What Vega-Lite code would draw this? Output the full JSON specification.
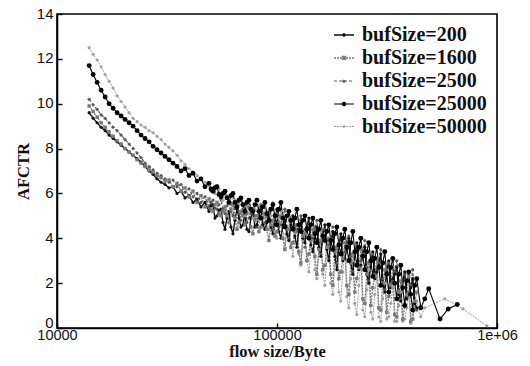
{
  "$schema": "https://vega.github.io/schema/vega-lite/v6.json",
  "width": 440,
  "height": 314,
  "autosize": "none",
  "padding": {"left": 57, "top": 14, "right": 33, "bottom": 38},
  "background": "white",
  "config": {
    "view": {"stroke": "#000", "strokeWidth": 1.6},
    "axis": {
      "grid": false,
      "domainColor": "#000",
      "domainWidth": 1.6,
      "tickColor": "#000",
      "tickWidth": 1.4,
      "tickSize": -5,
      "labelFont": "Liberation Sans",
      "labelFontSize": 15,
      "labelColor": "#111",
      "labelFlush": false,
      "titleFont": "Liberation Serif",
      "titleFontWeight": "bold",
      "titleFontSize": 16.5,
      "titleColor": "#111"
    }
  },
  "data": {
    "values": [
      {"flow": 14000, "200": 9.6, "1600": 9.9, "2500": 10.2, "25000": 11.7, "50000": 12.5},
      {"flow": 14600, "200": 9.35, "1600": 9.65, "2500": 9.95, "25000": 11.3, "50000": 12.2},
      {"flow": 15220, "200": 9.15, "1600": 9.4, "2500": 9.75, "25000": 10.95, "50000": 11.95},
      {"flow": 15870, "200": 8.95, "1600": 9.15, "2500": 9.5, "25000": 10.6, "50000": 11.65},
      {"flow": 16550, "200": 8.8, "1600": 8.95, "2500": 9.35, "25000": 10.3, "50000": 11.3},
      {"flow": 17250, "200": 8.6, "1600": 8.75, "2500": 9.15, "25000": 10.0, "50000": 11.0},
      {"flow": 17990, "200": 8.45, "1600": 8.55, "2500": 8.95, "25000": 9.8, "50000": 10.7},
      {"flow": 18760, "200": 8.3, "1600": 8.35, "2500": 8.8, "25000": 9.6, "50000": 10.35},
      {"flow": 19560, "200": 8.15, "1600": 8.2, "2500": 8.6, "25000": 9.45, "50000": 10.1},
      {"flow": 20390, "200": 8.0, "1600": 8.0, "2500": 8.4, "25000": 9.3, "50000": 9.85},
      {"flow": 21260, "200": 7.85, "1600": 7.85, "2500": 8.2, "25000": 9.15, "50000": 9.6},
      {"flow": 22170, "200": 7.7, "1600": 7.7, "2500": 8.0, "25000": 9.0, "50000": 9.35},
      {"flow": 23120, "200": 7.55, "1600": 7.5, "2500": 7.8, "25000": 8.8, "50000": 9.2},
      {"flow": 24100, "200": 7.4, "1600": 7.35, "2500": 7.6, "25000": 8.6, "50000": 9.05},
      {"flow": 25130, "200": 7.2, "1600": 7.2, "2500": 7.35, "25000": 8.45, "50000": 8.95},
      {"flow": 26210, "200": 7.0, "1600": 7.05, "2500": 7.2, "25000": 8.3, "50000": 8.8},
      {"flow": 27330, "200": 6.85, "1600": 6.95, "2500": 7.05, "25000": 8.1, "50000": 8.7},
      {"flow": 28490, "200": 6.65, "1600": 6.8, "2500": 6.9, "25000": 7.95, "50000": 8.55},
      {"flow": 29710, "200": 6.5, "1600": 6.7, "2500": 6.8, "25000": 7.8, "50000": 8.4},
      {"flow": 30980, "200": 6.4, "1600": 6.55, "2500": 6.65, "25000": 7.65, "50000": 8.2},
      {"flow": 32300, "200": 6.25, "1600": 6.6, "2500": 6.5, "25000": 7.5, "50000": 8.05},
      {"flow": 33680, "200": 6.3, "1600": 6.3, "2500": 6.6, "25000": 7.35, "50000": 7.9},
      {"flow": 35120, "200": 6.0, "1600": 6.45, "2500": 6.3, "25000": 7.2, "50000": 7.7},
      {"flow": 36620, "200": 6.1, "1600": 6.1, "2500": 6.4, "25000": 7.0, "50000": 7.45},
      {"flow": 38180, "200": 5.8, "1600": 6.25, "2500": 6.05, "25000": 7.1, "50000": 7.3},
      {"flow": 39810, "200": 5.9, "1600": 5.85, "2500": 6.2, "25000": 6.8, "50000": 7.1},
      {"flow": 41510, "200": 5.6, "1600": 6.1, "2500": 5.85, "25000": 6.9, "50000": 6.95},
      {"flow": 43290, "200": 5.75, "1600": 5.6, "2500": 6.0, "25000": 6.55, "50000": 6.8},
      {"flow": 45130, "200": 5.4, "1600": 5.9, "2500": 5.6, "25000": 6.65, "50000": 6.65},
      {"flow": 47060, "200": 5.6, "1600": 5.4, "2500": 5.85, "25000": 6.3, "50000": 6.5},
      {"flow": 49070, "200": 5.2, "1600": 5.75, "2500": 5.4, "25000": 6.45, "50000": 6.35},
      {"flow": 50110, "200": 5.45, "1600": 5.3, "2500": 5.6, "25000": 6.2, "50000": 6.1},
      {"flow": 51170, "200": 5.5, "1600": 5.2, "2500": 5.7, "25000": 6.1, "50000": 6.2},
      {"flow": 52250, "200": 4.9, "1600": 5.5, "2500": 5.35, "25000": 6.25, "50000": 6.0},
      {"flow": 53350, "200": 5.0, "1600": 5.6, "2500": 5.3, "25000": 6.3, "50000": 6.35},
      {"flow": 54480, "200": 5.25, "1600": 5.1, "2500": 5.5, "25000": 5.95, "50000": 6.2},
      {"flow": 55630, "200": 5.3, "1600": 5.0, "2500": 5.75, "25000": 5.85, "50000": 5.9},
      {"flow": 56810, "200": 4.7, "1600": 5.2, "2500": 5.3, "25000": 6.0, "50000": 5.7},
      {"flow": 58010, "200": 4.4, "1600": 5.4, "2500": 5.1, "25000": 6.1, "50000": 6.1},
      {"flow": 59240, "200": 4.9, "1600": 5.0, "2500": 5.45, "25000": 5.8, "50000": 5.9},
      {"flow": 60480, "200": 5.2, "1600": 4.7, "2500": 5.6, "25000": 5.6, "50000": 5.6},
      {"flow": 61760, "200": 4.5, "1600": 5.3, "2500": 5.2, "25000": 5.9, "50000": 5.5},
      {"flow": 63070, "200": 4.2, "1600": 5.5, "2500": 5.0, "25000": 6.0, "50000": 5.95},
      {"flow": 64400, "200": 4.8, "1600": 4.9, "2500": 5.4, "25000": 5.6, "50000": 5.7},
      {"flow": 65760, "200": 5.3, "1600": 4.4, "2500": 5.6, "25000": 5.4, "50000": 5.3},
      {"flow": 67150, "200": 4.9, "1600": 4.7, "2500": 5.1, "25000": 5.7, "50000": 5.5},
      {"flow": 68570, "200": 4.5, "1600": 5.2, "2500": 4.8, "25000": 5.8, "50000": 5.8},
      {"flow": 70020, "200": 4.6, "1600": 5.0, "2500": 5.3, "25000": 5.5, "50000": 5.2},
      {"flow": 71490, "200": 5.1, "1600": 4.6, "2500": 5.5, "25000": 5.2, "50000": 5.0},
      {"flow": 73000, "200": 4.4, "1600": 5.1, "2500": 4.7, "25000": 5.6, "50000": 5.4},
      {"flow": 74550, "200": 4.3, "1600": 5.4, "2500": 4.9, "25000": 5.7, "50000": 5.6},
      {"flow": 76120, "200": 4.9, "1600": 4.5, "2500": 5.1, "25000": 5.3, "50000": 5.1},
      {"flow": 77730, "200": 5.2, "1600": 4.2, "2500": 5.3, "25000": 5.2, "50000": 4.9},
      {"flow": 79370, "200": 4.5, "1600": 4.8, "2500": 5.0, "25000": 5.5, "50000": 5.3},
      {"flow": 81050, "200": 4.6, "1600": 5.0, "2500": 4.5, "25000": 5.7, "50000": 5.6},
      {"flow": 82760, "200": 5.0, "1600": 4.3, "2500": 5.2, "25000": 5.2, "50000": 4.8},
      {"flow": 84510, "200": 5.4, "1600": 4.5, "2500": 5.5, "25000": 4.9, "50000": 4.5},
      {"flow": 86300, "200": 4.6, "1600": 4.9, "2500": 4.6, "25000": 5.4, "50000": 5.0},
      {"flow": 88120, "200": 4.4, "1600": 5.1, "2500": 4.7, "25000": 5.6, "50000": 5.4},
      {"flow": 89980, "200": 4.7, "1600": 4.4, "2500": 5.0, "25000": 5.1, "50000": 4.7},
      {"flow": 91880, "200": 5.0, "1600": 3.9, "2500": 5.2, "25000": 4.8, "50000": 4.4},
      {"flow": 93820, "200": 4.5, "1600": 4.6, "2500": 4.8, "25000": 5.3, "50000": 5.0},
      {"flow": 95810, "200": 4.2, "1600": 4.8, "2500": 4.4, "25000": 5.5, "50000": 5.6},
      {"flow": 97830, "200": 4.8, "1600": 4.1, "2500": 4.9, "25000": 5.0, "50000": 4.3},
      {"flow": 99900, "200": 5.3, "1600": 4.3, "2500": 5.1, "25000": 4.6, "50000": 4.0},
      {"flow": 102000, "200": 4.3, "1600": 4.7, "2500": 4.5, "25000": 5.3, "50000": 4.9},
      {"flow": 104200, "200": 4.0, "1600": 5.0, "2500": 4.6, "25000": 5.6, "50000": 5.2},
      {"flow": 106400, "200": 4.6, "1600": 4.0, "2500": 5.0, "25000": 4.9, "50000": 4.2},
      {"flow": 108600, "200": 4.8, "1600": 3.5, "2500": 5.3, "25000": 4.5, "50000": 3.6},
      {"flow": 110900, "200": 4.2, "1600": 4.5, "2500": 4.4, "25000": 5.0, "50000": 4.4},
      {"flow": 113200, "200": 3.9, "1600": 4.4, "2500": 4.0, "25000": 5.2, "50000": 4.9},
      {"flow": 115600, "200": 4.6, "1600": 3.6, "2500": 4.7, "25000": 4.8, "50000": 3.8},
      {"flow": 118100, "200": 5.0, "1600": 3.8, "2500": 4.9, "25000": 4.4, "50000": 3.2},
      {"flow": 120600, "200": 4.1, "1600": 4.3, "2500": 4.5, "25000": 4.9, "50000": 4.2},
      {"flow": 123100, "200": 3.6, "1600": 4.6, "2500": 4.3, "25000": 5.3, "50000": 4.6},
      {"flow": 125700, "200": 4.4, "1600": 3.4, "2500": 4.6, "25000": 4.6, "50000": 3.3},
      {"flow": 128400, "200": 4.7, "1600": 2.9, "2500": 5.0, "25000": 4.3, "50000": 2.8},
      {"flow": 131100, "200": 4.0, "1600": 4.1, "2500": 4.3, "25000": 4.8, "50000": 3.9},
      {"flow": 133900, "200": 3.8, "1600": 4.2, "2500": 3.6, "25000": 5.0, "50000": 4.4},
      {"flow": 136700, "200": 4.5, "1600": 3.0, "2500": 4.4, "25000": 4.4, "50000": 3.0},
      {"flow": 139600, "200": 4.9, "1600": 3.3, "2500": 4.6, "25000": 4.0, "50000": 2.5},
      {"flow": 142500, "200": 3.7, "1600": 3.9, "2500": 4.1, "25000": 4.6, "50000": 3.6},
      {"flow": 145500, "200": 3.4, "1600": 4.4, "2500": 4.0, "25000": 4.9, "50000": 4.1},
      {"flow": 148600, "200": 4.0, "1600": 3.2, "2500": 4.4, "25000": 4.2, "50000": 2.6},
      {"flow": 151800, "200": 4.5, "1600": 2.4, "2500": 4.8, "25000": 3.8, "50000": 2.2},
      {"flow": 155000, "200": 3.6, "1600": 3.5, "2500": 3.8, "25000": 4.4, "50000": 3.5},
      {"flow": 158200, "200": 3.2, "1600": 3.9, "2500": 3.3, "25000": 4.8, "50000": 4.3},
      {"flow": 161500, "200": 4.1, "1600": 2.6, "2500": 4.2, "25000": 4.1, "50000": 2.4},
      {"flow": 165000, "200": 4.6, "1600": 2.8, "2500": 4.4, "25000": 3.9, "50000": 1.9},
      {"flow": 168500, "200": 3.5, "1600": 3.6, "2500": 3.9, "25000": 4.3, "50000": 3.1},
      {"flow": 172000, "200": 3.0, "1600": 4.0, "2500": 3.7, "25000": 4.6, "50000": 3.8},
      {"flow": 175600, "200": 3.8, "1600": 2.4, "2500": 4.0, "25000": 3.9, "50000": 2.0},
      {"flow": 179400, "200": 4.3, "1600": 1.9, "2500": 4.5, "25000": 3.5, "50000": 1.5},
      {"flow": 183200, "200": 3.2, "1600": 3.4, "2500": 3.5, "25000": 4.2, "50000": 2.8},
      {"flow": 187100, "200": 2.6, "1600": 3.6, "2500": 2.9, "25000": 4.5, "50000": 3.6},
      {"flow": 191100, "200": 3.7, "1600": 2.2, "2500": 3.8, "25000": 3.7, "50000": 1.6},
      {"flow": 195000, "200": 4.2, "1600": 2.5, "2500": 4.0, "25000": 3.3, "50000": 1.2},
      {"flow": 199100, "200": 3.0, "1600": 3.1, "2500": 3.3, "25000": 4.0, "50000": 2.5},
      {"flow": 203400, "200": 3.1, "1600": 3.8, "2500": 3.4, "25000": 4.4, "50000": 3.4},
      {"flow": 207700, "200": 3.5, "1600": 1.9, "2500": 3.7, "25000": 3.6, "50000": 1.4},
      {"flow": 212000, "200": 4.0, "1600": 1.5, "2500": 4.1, "25000": 3.0, "50000": 0.9},
      {"flow": 216500, "200": 2.9, "1600": 2.9, "2500": 3.2, "25000": 3.8, "50000": 2.2},
      {"flow": 221100, "200": 2.4, "1600": 3.3, "2500": 2.5, "25000": 4.3, "50000": 3.0},
      {"flow": 225800, "200": 3.3, "1600": 1.6, "2500": 3.4, "25000": 3.4, "50000": 1.1},
      {"flow": 230600, "200": 3.8, "1600": 2.2, "2500": 3.7, "25000": 2.8, "50000": 0.6},
      {"flow": 235500, "200": 2.6, "1600": 2.7, "2500": 2.8, "25000": 3.6, "50000": 1.9},
      {"flow": 240400, "200": 2.8, "1600": 3.5, "2500": 3.0, "25000": 4.0, "50000": 2.9},
      {"flow": 245500, "200": 3.2, "1600": 1.3, "2500": 3.3, "25000": 3.2, "50000": 0.8},
      {"flow": 250700, "200": 3.6, "1600": 1.1, "2500": 3.9, "25000": 2.6, "50000": 0.5},
      {"flow": 256000, "200": 2.4, "1600": 2.4, "2500": 2.7, "25000": 3.4, "50000": 1.7},
      {"flow": 261400, "200": 2.0, "1600": 2.9, "2500": 2.1, "25000": 3.8, "50000": 2.6},
      {"flow": 266900, "200": 2.9, "1600": 1.0, "2500": 3.0, "25000": 3.0, "50000": 0.7},
      {"flow": 272500, "200": 3.4, "1600": 1.8, "2500": 3.3, "25000": 2.3, "50000": 0.4},
      {"flow": 278300, "200": 2.2, "1600": 2.3, "2500": 2.4, "25000": 3.1, "50000": 1.5},
      {"flow": 284200, "200": 2.5, "1600": 3.1, "2500": 2.6, "25000": 3.6, "50000": 2.3},
      {"flow": 290200, "200": 2.8, "1600": 0.9, "2500": 2.9, "25000": 2.7, "50000": 0.5},
      {"flow": 296300, "200": 3.3, "1600": 0.8, "2500": 3.5, "25000": 1.9, "50000": 0.3},
      {"flow": 302600, "200": 2.0, "1600": 2.0, "2500": 2.2, "25000": 2.9, "50000": 1.3},
      {"flow": 309000, "200": 1.6, "1600": 2.6, "2500": 1.7, "25000": 3.4, "50000": 2.0},
      {"flow": 315500, "200": 2.5, "1600": 0.7, "2500": 2.6, "25000": 2.4, "50000": 0.4},
      {"flow": 322200, "200": 3.0, "1600": 1.4, "2500": 2.9, "25000": 1.6, "50000": 0.5},
      {"flow": 329000, "200": 1.8, "1600": 1.9, "2500": 2.0, "25000": 2.7, "50000": 1.1},
      {"flow": 335900, "200": 2.2, "1600": 2.7, "2500": 2.1, "25000": 3.1, "50000": 1.8},
      {"flow": 343000, "200": 2.4, "1600": 0.6, "2500": 2.5, "25000": 2.0, "50000": 0.3},
      {"flow": 350300, "200": 2.7, "1600": 0.5, "2500": 3.0, "25000": 1.3, "50000": 0.3},
      {"flow": 357700, "200": 1.5, "1600": 1.6, "2500": 1.7, "25000": 2.4, "50000": 1.0},
      {"flow": 365200, "200": 1.2, "1600": 2.1, "2500": 1.3, "25000": 2.8, "50000": 1.6},
      {"flow": 372900, "200": 2.1, "1600": 0.4, "2500": 2.0, "25000": 1.8, "50000": 0.3},
      {"flow": 380800, "200": 2.5, "1600": 1.0, "2500": 2.4, "25000": 1.0, "50000": 0.4},
      {"flow": 388800, "200": 1.3, "1600": 1.5, "2500": 1.4, "25000": 2.1, "50000": 0.9},
      {"flow": 397100, "200": 1.5, "1600": 2.3, "2500": 1.6, "25000": 2.5, "50000": 1.5},
      {"flow": 405500, "200": 1.8, "1600": 0.3, "2500": 1.9, "25000": 1.5, "50000": 0.2},
      {"flow": 414000, "200": 2.2, "1600": 0.4, "2500": 2.6, "25000": 0.8, "50000": 0.6},
      {"flow": 422700, "200": 1.1, "1600": 1.2, "2500": 1.2, "25000": 1.9, "50000": 0.8},
      {"flow": 431700, "200": 0.9, "1600": 1.6, "2500": 0.8, "25000": 2.2, "50000": 1.2},
      {"flow": 450200, "25000": 0.9, "50000": 0.5},
      {"flow": 469400, "25000": 1.3, "50000": 0.9},
      {"flow": 489400, "25000": 1.75},
      {"flow": 551000, "25000": 0.4},
      {"flow": 580000, "50000": 1.3},
      {"flow": 600000, "25000": 0.85},
      {"flow": 660000, "25000": 1.05},
      {"flow": 700000, "50000": 0.85},
      {"flow": 900000, "50000": 0.1}
    ]
  },
  "transform": [
    {"fold": ["50000", "1600", "2500", "200", "25000"], "as": ["bufSize", "afctr"]},
    {"filter": {"field": "afctr", "valid": true}}
  ],
  "encoding": {
    "x": {
      "field": "flow",
      "type": "quantitative",
      "scale": {"type": "log", "domain": [10000, 1000000]},
      "axis": {
        "title": "flow size/Byte",
        "values": [10000, 100000, 1000000],
        "labelExpr": "datum.value >= 1000000 ? '1e+06' : format(datum.value, 'd')",
        "labelFontSize": 14.5,
        "labelPadding": 5,
        "titlePadding": 2
      }
    },
    "y": {
      "field": "afctr",
      "type": "quantitative",
      "scale": {"domain": [0, 14]},
      "axis": {
        "title": "AFCTR",
        "values": [0, 2, 4, 6, 8, 10, 12, 14],
        "labelPadding": 9,
        "labelOffset": -1,
        "labelBaseline": {"condition": {"test": "datum.value === 0", "value": "alphabetic"}, "value": "middle"},
        "titlePadding": 5
      }
    },
    "color": {
      "field": "bufSize",
      "type": "nominal",
      "scale": {
        "domain": ["200", "1600", "2500", "25000", "50000"],
        "range": ["#111111", "#7a7a7a", "#5a5a5a", "#000000", "#a0a0a0"]
      },
      "legend": {
        "title": null,
        "orient": "top-right",
        "offset": 10,
        "padding": 0,
        "rowPadding": 2,
        "labelExpr": "'bufSize=' + datum.label",
        "labelFont": "Liberation Serif",
        "labelFontWeight": "bold",
        "labelFontSize": 20,
        "labelColor": "#111",
        "labelOffset": 7,
        "symbolSize": 400,
        "encode": {
          "symbols": {
            "update": {
              "shape": {"signal": "datum.value === '1600' ? 'M-1,0H1M-0.17,-0.17H0.17V0.17H-0.17Z' : (datum.value === '25000' ? 'M-1,0H1M-0.17,0A0.17,0.17 0 1,0 0.17,0A0.17,0.17 0 1,0 -0.17,0Z' : 'M-1,0H1M-0.11,0A0.11,0.11 0 1,0 0.11,0A0.11,0.11 0 1,0 -0.11,0Z')"},
              "size": {"value": 400},
              "fill": {"scale": "color", "field": "value"},
              "stroke": {"scale": "color", "field": "value"},
              "strokeWidth": {"signal": "datum.value === '25000' ? 2.2 : 1.2"},
              "strokeDash": {"signal": "datum.value === '200' || datum.value === '25000' ? [1, 0] : [2, 1]"},
              "opacity": {"value": 1}
            }
          }
        }
      }
    }
  },
  "layer": [
    {
      "mark": {"type": "line", "interpolate": "linear"},
      "encoding": {
        "strokeWidth": {
          "field": "bufSize",
          "type": "nominal",
          "scale": {"domain": ["200", "1600", "2500", "25000", "50000"], "range": [1.4, 1, 1, 2.2, 1]},
          "legend": null
        },
        "strokeDash": {
          "field": "bufSize",
          "type": "nominal",
          "scale": {"domain": ["200", "1600", "2500", "25000", "50000"], "range": [[1, 0], [2, 1], [3, 2], [1, 0], [2, 1]]},
          "legend": null
        }
      }
    },
    {
      "transform": [{"filter": {"field": "bufSize", "oneOf": ["200", "2500", "50000"]}}],
      "mark": {"type": "circle", "size": 10, "opacity": 1}
    },
    {
      "transform": [{"filter": {"field": "bufSize", "equal": "1600"}}],
      "mark": {"type": "square", "size": 12, "opacity": 1}
    },
    {
      "transform": [{"filter": {"field": "bufSize", "equal": "25000"}}],
      "mark": {"type": "circle", "size": 24, "opacity": 1}
    }
  ]
}
